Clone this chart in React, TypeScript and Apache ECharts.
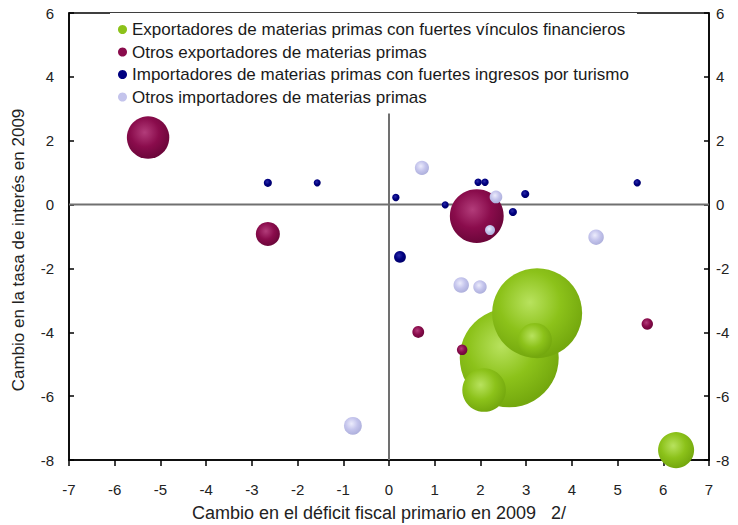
import React, { useEffect, useRef } from "react";
import * as echarts from "echarts";

// [x: cambio déficit fiscal primario, y: cambio tasa de interés, weight (bubble size)]
const seriesNames = [
  "Exportadores de materias primas con fuertes vínculos financieros",
  "Otros exportadores de materias primas",
  "Importadores de materias primas con fuertes ingresos por turismo",
  "Otros importadores de materias primas",
];

const exportadoresFinancieros = [
  [2.63, -4.8, 98],
  [3.24, -3.4, 81],
  [3.19, -4.24, 11.6],
  [2.08, -5.81, 19],
  [6.28, -7.69, 13],
];

const otrosExportadores = [
  [-5.27, 2.1, 18],
  [-2.65, -0.92, 5.8],
  [1.92, -0.36, 29],
  [0.64, -3.99, 1.4],
  [1.6, -4.55, 1.1],
  [5.65, -3.74, 1.3],
];

const importadoresTurismo = [
  [-2.65, 0.68, 0.65],
  [-1.57, 0.68, 0.5],
  [0.15, 0.22, 0.55],
  [0.24, -1.64, 1.4],
  [1.23, -0.01, 0.5],
  [1.95, 0.7, 0.55],
  [2.1, 0.7, 0.55],
  [2.98, 0.33, 0.65],
  [2.71, -0.23, 0.65],
  [5.43, 0.68, 0.55],
];

const otrosImportadores = [
  [0.72, 1.15, 2],
  [2.34, 0.24, 1.6],
  [2.21, -0.8, 1],
  [4.53, -1.02, 2.4],
  [1.58, -2.52, 2.4],
  [1.99, -2.58, 1.8],
  [-0.79, -6.93, 3.2],
];

const xRange = [-7, 7];
const yRange = [-8, 6];
const xTitle = "Cambio en el déficit fiscal primario en 2009   2/";
const yTitle = "Cambio en la tasa de interés en 2009";

const FONT = "'Liberation Sans', Arial, sans-serif";

const palette = [
  { base: "#8cc21a", hi: "#b8e25e", edge: "#74a80e" },
  { base: "#8a0c4c", hi: "#b23c7a", edge: "#6c063a" },
  { base: "#000080", hi: "#2a2aa8", edge: "#00006a" },
  { base: "#c4c4ec", hi: "#ececfc", edge: "#aeb0dc" },
];

function grad(p: { base: string; hi: string; edge: string }) {
  return {
    type: "radial",
    x: 0.42,
    y: 0.38,
    r: 0.62,
    colorStops: [
      { offset: 0, color: p.hi },
      { offset: 0.55, color: p.base },
      { offset: 1, color: p.edge },
    ],
  };
}

export default function App() {
  const ref = useRef<HTMLDivElement>(null);

  useEffect(() => {
    if (!ref.current) return;
    const chart = echarts.init(ref.current, undefined, { renderer: "svg" });
    const datasets = [exportadoresFinancieros, otrosExportadores, importadoresTurismo, otrosImportadores];

    const bubbleSeries = datasets.map((d, i) => ({
      name: seriesNames[i],
      type: "scatter",
      data: d,
      symbol: "circle",
      symbolSize: (v: number[]) => 10 * Math.sqrt(v[2]),
      itemStyle: { color: grad(palette[i]) as any, opacity: 1 },
      z: 3,
    }));

    const axisLabel = { color: "#222", fontSize: 15, fontFamily: FONT };

    chart.setOption({
      animation: false,
      backgroundColor: "#fff",
      textStyle: { fontFamily: FONT },
      grid: {
        left: 69,
        right: 29,
        top: 13,
        bottom: 65,
        show: true,
        borderColor: "#000",
        borderWidth: 1.5,
        backgroundColor: "transparent",
      },
      legend: {
        orient: "vertical",
        left: 110,
        top: 13,
        padding: [8, 8, 8, 8],
        itemGap: 5.5,
        itemWidth: 9,
        itemHeight: 9,
        backgroundColor: "#fff",
        icon: "circle",
        textStyle: { color: "#1a1a1a", fontSize: 17, fontFamily: FONT, lineHeight: 17 },
        data: seriesNames.map((n, i) => ({ name: n, itemStyle: { color: palette[i].base } })),
      },
      graphic: [
        {
          type: "text",
          x: 379,
          y: 513,
          silent: true,
          style: {
            text: xTitle,
            fill: "#222",
            font: `18px ${FONT}`,
            textAlign: "center",
            textVerticalAlign: "middle",
          },
        },
        {
          type: "text",
          x: 18,
          y: 250,
          rotation: Math.PI / 2,
          silent: true,
          style: {
            text: yTitle,
            fill: "#222",
            font: `17px ${FONT}`,
            textAlign: "center",
            textVerticalAlign: "middle",
          },
        },
      ],
      xAxis: {
        type: "value",
        min: xRange[0],
        max: xRange[1],
        interval: 1,
        axisLine: { show: true, onZero: false, lineStyle: { color: "#000", width: 1.5 } },
        axisTick: { show: true, inside: false, length: 6, lineStyle: { color: "#000", width: 1.5 } },
        axisLabel: { ...axisLabel, margin: 22 },
        splitLine: { show: false },
      },
      yAxis: [
        {
          type: "value",
          min: yRange[0],
          max: yRange[1],
          interval: 2,
          position: "left",
          axisLine: { show: true, onZero: false, lineStyle: { color: "#000", width: 1.5 } },
          axisTick: { show: true, inside: true, length: 5, lineStyle: { color: "#000", width: 1.5 } },
          axisLabel: { ...axisLabel, margin: 15 },
          splitLine: { show: false },
        },
        {
          type: "value",
          min: yRange[0],
          max: yRange[1],
          interval: 2,
          position: "right",
          axisLine: { show: true, onZero: false, lineStyle: { color: "#000", width: 1.5 } },
          axisTick: { show: true, inside: true, length: 5, lineStyle: { color: "#000", width: 1.5 } },
          axisLabel: { ...axisLabel, margin: 7 },
          splitLine: { show: false },
        },
      ],
      series: [
        {
          name: "zeroV",
          type: "line",
          data: [[0, yRange[0]], [0, yRange[1]]],
          showSymbol: false,
          symbol: "none",
          silent: true,
          lineStyle: { color: "#707070", width: 2 },
          z: 1,
        },
        {
          name: "zeroH",
          type: "line",
          data: [[xRange[0], 0], [xRange[1], 0]],
          showSymbol: false,
          symbol: "none",
          silent: true,
          lineStyle: { color: "#707070", width: 2 },
          z: 1,
        },
        ...bubbleSeries,
      ],
    });

    return () => chart.dispose();
  }, []);

  return (
    <div
      ref={ref}
      style={{ position: "fixed", left: 0, top: 0, width: 738, height: 525 }}
    />
  );
}
